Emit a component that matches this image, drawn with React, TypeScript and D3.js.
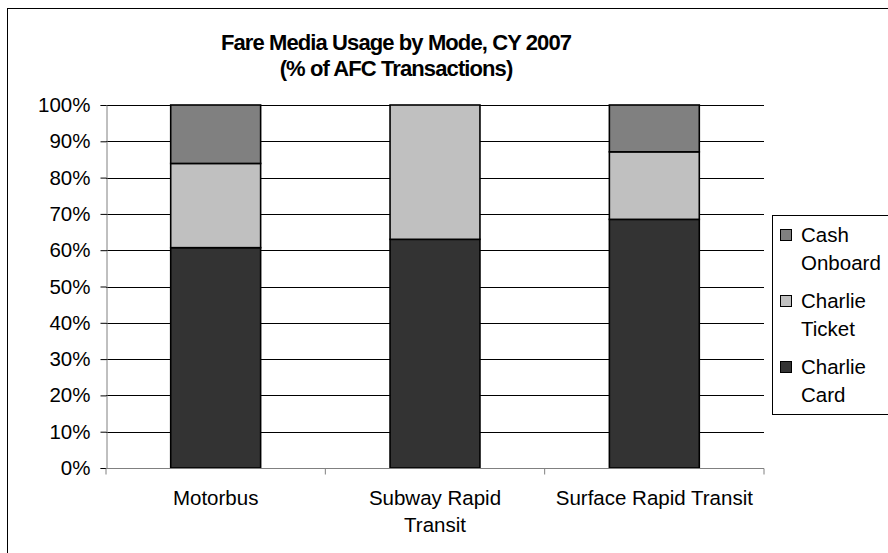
import React, { useEffect, useRef } from "react";
import * as d3 from "d3";

const categories = ["Motorbus", "Subway Rapid Transit", "Surface Rapid Transit"];
const categoryLines = [["Motorbus"], ["Subway Rapid", "Transit"], ["Surface Rapid Transit"]];
const charlieCard = [60.7, 63.0, 68.5];
const charlieTicket = [23.2, 37.0, 18.6];
const cashOnboard = [16.1, 0, 12.9];
const seriesKeys = ["Charlie Card", "Charlie Ticket", "Cash Onboard"];
const seriesColors = ["#333333", "#c0c0c0", "#808080"];
const legendLines = [["Charlie", "Card"], ["Charlie", "Ticket"], ["Cash", "Onboard"]];
const yTicks = [0, 10, 20, 30, 40, 50, 60, 70, 80, 90, 100];
const titleLines = ["Fare Media Usage by Mode, CY 2007", "(% of AFC Transactions)"];

const FONT = "'Liberation Sans', Arial, sans-serif";

const App: React.FC = () => {
    const svgRef = useRef<SVGSVGElement | null>(null);

    useEffect(() => {
        if (!svgRef.current) return;
        const svg = d3.select(svgRef.current);
        svg.selectAll("*").remove();

        const width = 888;
        const height = 553;
        const margin = { top: 105, right: 124, bottom: 85, left: 106 };

        svg.attr("width", width).attr("height", height);

        // chart border (runs off the picture on the right and bottom)
        svg.append("rect")
            .attr("x", 7.5).attr("y", 8.5)
            .attr("width", 1000).attr("height", 1000)
            .attr("fill", "#fff")
            .attr("stroke", "#000");

        const x = d3.scaleBand<string>()
            .domain(categories)
            .range([margin.left, width - margin.right])
            .paddingInner(0.59)
            .paddingOuter(0.295);

        const y = d3.scaleLinear()
            .domain([0, 100])
            .range([height - margin.bottom, margin.top]);

        // gridlines
        svg.append("g")
            .selectAll("line")
            .data(yTicks.filter((t) => t > 0))
            .join("line")
            .attr("x1", margin.left).attr("x2", width - margin.right)
            .attr("y1", (d) => Math.round(y(d)) + 0.5)
            .attr("y2", (d) => Math.round(y(d)) + 0.5)
            .attr("stroke", "#000");

        // stacked bars
        const rows = categories.map((c, i) => ({
            category: c,
            "Charlie Card": charlieCard[i],
            "Charlie Ticket": charlieTicket[i],
            "Cash Onboard": cashOnboard[i],
        }));
        const stacked = d3.stack<any>().keys(seriesKeys)(rows);

        svg.append("g")
            .selectAll("g")
            .data(stacked)
            .join("g")
            .attr("fill", (_, i) => seriesColors[i])
            .selectAll("rect")
            .data((s) => s.filter((d) => d[1] - d[0] > 0))
            .join("rect")
            .attr("x", (d) => x(d.data.category)!)
            .attr("width", x.bandwidth())
            .attr("y", (d) => y(d[1]))
            .attr("height", (d) => y(d[0]) - y(d[1]))
            .attr("stroke", "#000")
            .attr("stroke-width", 1.6);

        // y axis
        const yAxis = svg.append("g")
            .attr("transform", `translate(${margin.left + 0.5},0)`)
            .call(d3.axisLeft(y).tickValues(yTicks).tickSize(6).tickFormat((d) => `${d}%`));
        yAxis.select(".domain").attr("stroke", "#808080");
        yAxis.selectAll(".tick line").attr("stroke", "#000");
        yAxis.selectAll(".tick text")
            .attr("x", -16)
            .attr("fill", "#000")
            .style("font-family", FONT)
            .style("font-size", "20.5px");

        // x axis
        const xAxisY = Math.round(y(0)) + 0.5;
        const gx = svg.append("g");
        gx.append("line")
            .attr("x1", margin.left).attr("x2", width - margin.right)
            .attr("y1", xAxisY).attr("y2", xAxisY)
            .attr("stroke", "#808080");
        gx.selectAll("line.tick")
            .data(d3.range(categories.length + 1))
            .join("line")
            .attr("class", "tick")
            .attr("x1", (i) => margin.left + i * x.step())
            .attr("x2", (i) => margin.left + i * x.step())
            .attr("y1", xAxisY).attr("y2", xAxisY + 6)
            .attr("stroke", "#808080");

        gx.selectAll("text")
            .data(categories)
            .join("text")
            .attr("x", (d) => x(d)! + x.bandwidth() / 2)
            .attr("y", 505)
            .attr("text-anchor", "middle")
            .style("font-family", FONT)
            .style("font-size", "20.5px")
            .attr("fill", "#000")
            .each(function (_, i) {
                const t = d3.select(this);
                categoryLines[i].forEach((line, j) => {
                    t.append("tspan")
                        .attr("x", x(categories[i])! + x.bandwidth() / 2)
                        .attr("dy", j === 0 ? 0 : 27)
                        .text(line);
                });
            });

        // title
        svg.append("g")
            .selectAll("text")
            .data(titleLines)
            .join("text")
            .attr("x", 396)
            .attr("y", (_, i) => 50 + i * 26)
            .attr("text-anchor", "middle")
            .style("font-family", FONT)
            .style("font-size", "22px")
            .style("letter-spacing", "-0.9px")
            .style("font-weight", "bold")
            .text((d) => d);

        // legend
        const legend = svg.append("g");
        legend.append("rect")
            .attr("x", 772.5).attr("y", 215.5)
            .attr("width", 200).attr("height", 199)
            .attr("fill", "#fff")
            .attr("stroke", "#000");

        const order = [2, 1, 0];
        order.forEach((si, k) => {
            const base = 242 + k * 66;
            legend.append("rect")
                .attr("x", 780.5).attr("y", base - 12.5)
                .attr("width", 11).attr("height", 11)
                .attr("fill", seriesColors[si])
                .attr("stroke", "#000");
            legendLines[si].forEach((line, j) => {
                legend.append("text")
                    .attr("x", 801)
                    .attr("y", base + j * 28)
                    .style("font-family", FONT)
                    .style("font-size", "20.5px")
                    .text(line);
            });
        });
    }, []);

    return (
        <svg ref={svgRef} style={{ position: "absolute", left: 0, top: 0 }}></svg>
    );
};

export default App;
